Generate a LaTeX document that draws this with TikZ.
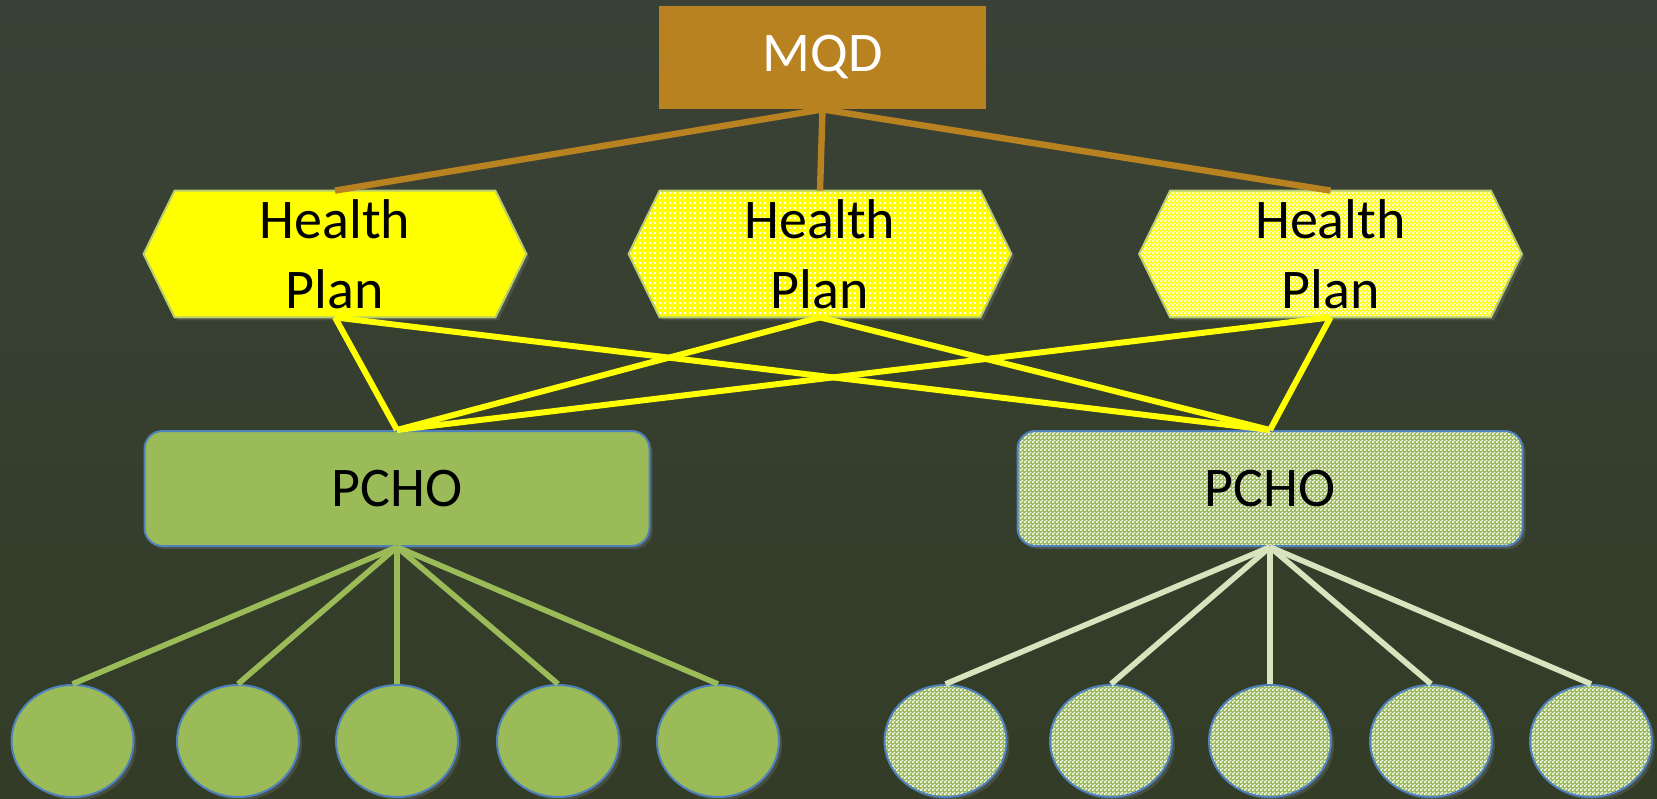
\documentclass[tikz,border=0pt]{standalone}
\usepackage{fontspec}
\setmainfont{Carlito}
\usetikzlibrary{patterns,shadows,shapes.geometric}

\definecolor{bgtop}{RGB}{58,66,55}
\definecolor{bgbot}{RGB}{50,60,38}
\definecolor{mqdbrown}{RGB}{185,130,32}
\definecolor{plangreen}{RGB}{155,187,89}
\definecolor{palegreen}{RGB}{215,228,189}
\definecolor{edgeblue}{RGB}{79,129,189}
\definecolor{hexedge}{RGB}{185,205,110}
\definecolor{planyellow}{RGB}{255,255,0}

% small checkerboard: 1pt cells
\pgfdeclarepatternformonly{finechecker}{\pgfpointorigin}{\pgfqpoint{2pt}{2pt}}{\pgfqpoint{2pt}{2pt}}{%
  \pgfpathrectangle{\pgfpointorigin}{\pgfqpoint{1pt}{1pt}}%
  \pgfpathrectangle{\pgfqpoint{1pt}{1pt}}{\pgfqpoint{1pt}{1pt}}%
  \pgfusepath{fill}}
% small square dots on a 2.5pt grid
\pgfdeclarepatternformonly{finedots}{\pgfqpoint{-0.5pt}{-0.5pt}}{\pgfqpoint{0.5pt}{0.5pt}}{\pgfqpoint{2.5pt}{2.5pt}}{%
  \pgfpathrectangle{\pgfqpoint{-0.35pt}{-0.35pt}}{\pgfqpoint{0.7pt}{0.7pt}}%
  \pgfusepath{fill}}

\pgfdeclarelayer{underlay}
\pgfsetlayers{underlay,main}

\tikzset{
  big/.style={font=\fontsize{28}{35}\selectfont},
  softshadow/.style={drop shadow={opacity=0.3,shadow xshift=1.5pt,shadow yshift=-1.5pt}},
  mqdbox/.style={big,text=white,fill=mqdbrown,minimum width=163.5pt,minimum height=51.5pt,inner sep=0pt},
  plantext/.style={big,align=center,minimum width=160pt,minimum height=63pt,inner sep=0pt},
  hexshape/.style={softshadow,draw=hexedge,line width=1pt},
  yellowsolid/.style={fill=planyellow},
  yellowdots/.style={preaction={fill=planyellow},pattern=finedots,pattern color=white},
  yellowcheck/.style={preaction={fill=planyellow},pattern=finechecker,pattern color=white},
  pchobox/.style={big,softshadow,draw=edgeblue,line width=1pt,rounded corners=9pt,
    minimum width=252.5pt,minimum height=57.5pt,inner sep=0pt},
  member/.style={ellipse,softshadow,draw=edgeblue,line width=1pt,minimum width=61pt,minimum height=56pt,inner sep=0pt},
  greensolid/.style={fill=plangreen},
  greencheck/.style={preaction={fill=plangreen},pattern=finechecker,pattern color=white},
  mqdlink/.style={draw=mqdbrown,line width=3.2pt},
  planlink/.style={draw=planyellow,line width=3pt},
  greenlink/.style={draw=plangreen,line width=2.8pt},
  palelink/.style={draw=palegreen,line width=2.8pt},
}

\begin{document}
\begin{tikzpicture}[x=0.5pt,y=-0.5pt]
\useasboundingbox (0,0) rectangle (1657,798);
\begin{pgfonlayer}{underlay}
  \shade[top color=bgtop,bottom color=bgbot] (0,0) rectangle (1657,798);
\end{pgfonlayer}

% top level
\node[mqdbox] (mqd) at (822.5,57.5) {MQD};

% health plans (text boxes; hexagons drawn underneath)
\node[plantext] (hp1) at (335,254) {Health\\Plan};
\node[plantext] (hp2) at (820,254) {Health\\Plan};
\node[plantext] (hp3) at (1330.5,254) {Health\\Plan};

\begin{pgfonlayer}{underlay}
  \foreach \h/\sty in {hp1/yellowsolid,hp2/yellowdots,hp3/yellowcheck}
    \path[hexshape,\sty] (\h.north west) -- (\h.north east) -- ([xshift=15.5pt]\h.east)
      -- (\h.south east) -- (\h.south west) -- ([xshift=-15.5pt]\h.west) -- cycle;
\end{pgfonlayer}

% care organisations
\node[pchobox,greensolid] (pc1) at (397,488.5) {PCHO};
\node[pchobox,greencheck] (pc2) at (1270,488.5) {PCHO};

% members
\foreach \i/\x in {1/72.5,2/238,3/397,4/558,5/718}
  \node[member,greensolid] (m\i) at (\x,741) {};
\foreach \i/\x in {6/945.5,7/1111,8/1270,9/1431,10/1591}
  \node[member,greencheck] (m\i) at (\x,741) {};

% connectors
\foreach \h in {hp1,hp2,hp3}
  \draw[mqdlink] (mqd.south) -- (\h.north);
\foreach \h in {hp1,hp2,hp3}
  \foreach \p in {pc1,pc2}
    \draw[planlink] (\h.south) -- (\p.north);
\foreach \i in {1,...,5}
  \draw[greenlink] (pc1.south) -- (m\i.north);
\foreach \i in {6,...,10}
  \draw[palelink] (pc2.south) -- (m\i.north);
\end{tikzpicture}
\end{document}
